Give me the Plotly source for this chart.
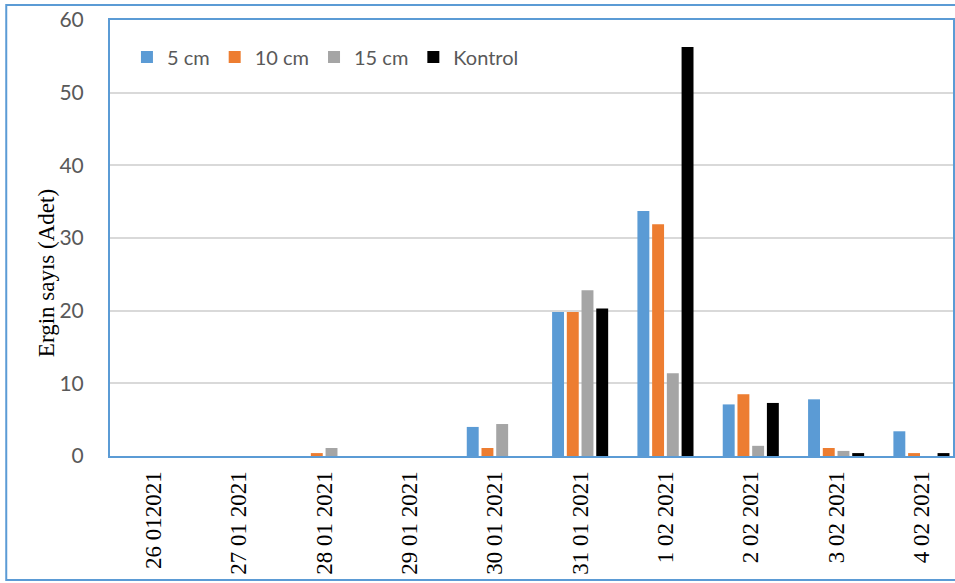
import plotly.graph_objects as go

categories = ["26 012021", "27 01 2021", "28 01 2021", "29 01 2021", "30 01 2021",
              "31 01 2021", "1 02 2021", "2 02 2021", "3 02 2021", "4 02 2021"]
series_names = ["5 cm", "10 cm", "15 cm", "Kontrol"]
cm5 = [0, 0, 0, 0, 4.0, 19.8, 33.7, 7.1, 7.8, 3.4]
cm10 = [0, 0, 0.4, 0, 1.1, 19.8, 31.9, 8.5, 1.1, 0.4]
cm15 = [0, 0, 1.1, 0, 4.4, 22.8, 11.4, 1.4, 0.7, 0]
kontrol = [0, 0, 0, 0, 0, 20.3, 56.3, 7.3, 0.4, 0.4]
y_ticks = [0, 10, 20, 30, 40, 50, 60]
y_title = "Ergin sayıs (Adet)"

colors = ["#5B9BD5", "#ED7D31", "#A5A5A5", "#000000"]
BLUE = "#5B9BD5"
SANS = "Lato, 'Open Sans', sans-serif"
SERIF = "'Liberation Serif', 'Times New Roman', serif"

fig = go.Figure()
for name, vals, col in zip(series_names, [cm5, cm10, cm15, kontrol], colors):
    fig.add_trace(go.Bar(x=categories, y=vals, name=name,
                         marker=dict(color=col, line=dict(width=0))))

W, H = 955, 583
L, R, T, B = 110, 0, 20, 127
pw, ph = W - L - R, H - T - B

def px_x(x):
    return (x - L) / pw

def px_y(y):
    return (H - B - y) / ph

fig.update_layout(
    width=W, height=H,
    margin=dict(l=L, r=R, t=T, b=B, pad=0),
    paper_bgcolor="white", plot_bgcolor="white",
    barmode="group", bargap=0.31, bargroupgap=0.19,
    showlegend=True,
    legend=dict(orientation="h", x=px_x(127), y=px_y(57), xanchor="left", yanchor="middle",
                font=dict(family=SANS, size=20, color="#595959"),
                bgcolor="rgba(0,0,0,0)", itemwidth=30, traceorder="normal"),
    xaxis=dict(range=[-0.51, 9.37], showgrid=False, showline=True, linecolor=BLUE,
               linewidth=2, mirror=True, ticks="", tickangle=-90,
               tickfont=dict(family=SERIF, size=23, color="black"),
               ticklabelstandoff=4, fixedrange=True),
    yaxis=dict(range=[0, 60], tickvals=y_ticks, showgrid=True, gridcolor="#D9D9D9",
               gridwidth=1.5, showline=True, linecolor=BLUE, linewidth=2, mirror=True,
               ticks="", tickfont=dict(family=SANS, size=21, color="#595959"),
               ticklabelstandoff=20, zeroline=False, fixedrange=True),
    annotations=[dict(text=y_title, xref="paper", yref="paper", x=px_x(46), y=px_y(273),
                      textangle=-90, showarrow=False, xanchor="center", yanchor="middle",
                      font=dict(family=SERIF, size=23, color="black"))],
    shapes=[dict(type="rect", xref="paper", yref="paper",
                 x0=px_x(6), x1=1.05, y0=px_y(580), y1=px_y(5),
                 line=dict(color=BLUE, width=2), layer="below")],
)

fig.write_html("out.html")
